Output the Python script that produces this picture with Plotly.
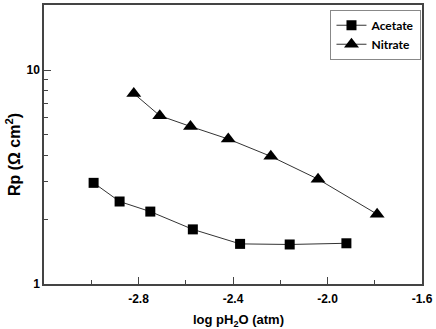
import plotly.graph_objects as go

acetate_x = [-2.99, -2.88, -2.75, -2.57, -2.37, -2.16, -1.92]
acetate_y = [2.97, 2.43, 2.18, 1.80, 1.54, 1.53, 1.55]
nitrate_x = [-2.82, -2.71, -2.58, -2.42, -2.24, -2.04, -1.79]
nitrate_y = [7.77, 6.12, 5.45, 4.76, 3.95, 3.09, 2.12]

x_ticks = [-2.8, -2.4, -2.0, -1.6]
x_minor = [-3.0, -2.6, -2.2, -1.8]
y_ticks = [1, 10]
y_minor = [2, 3, 4, 5, 6, 7, 8, 9, 20]

fig = go.Figure()
fig.add_trace(go.Scatter(x=acetate_x, y=acetate_y, name="Acetate", mode="lines+markers",
                         line=dict(color="#333333", width=1),
                         marker=dict(symbol="square", size=10, color="black")))
fig.add_trace(go.Scatter(x=nitrate_x, y=nitrate_y, name="Nitrate", mode="lines+markers",
                         line=dict(color="#333333", width=1),
                         marker=dict(symbol="triangle-up", size=13, color="black")))

tickfont = dict(family="Liberation Sans", size=12, color="black", weight="bold")
titlefont = dict(family="Liberation Sans", size=13, color="black", weight="bold")
fig.update_layout(
    width=436, height=329,
    margin=dict(l=44, r=12, t=3, b=45),
    paper_bgcolor="white", plot_bgcolor="white",
    showlegend=True,
    legend=dict(x=(332 - 44) / 380, y=0.983, xanchor="left", yanchor="top",
                bordercolor="#888888", borderwidth=1, bgcolor="white",
                font=dict(family="Lato", size=12, color="black", weight="bold"),
                tracegroupgap=0, itemwidth=30),
    xaxis=dict(range=[-3.2, -1.6], tickvals=x_ticks, ticktext=[f"{v:.1f}" for v in x_ticks],
               ticks="inside", ticklen=7, tickwidth=1.2, tickcolor="#444444",
               showline=True, linecolor="#444444", linewidth=1.5, mirror=True,
               showgrid=False, zeroline=False, tickfont=tickfont, ticklabelstandoff=3,
               minor=dict(tickvals=x_minor, ticks="inside", ticklen=4, tickcolor="#444444", showgrid=False)),
    yaxis=dict(type="log", range=[0, 1.304], tickvals=y_ticks, ticktext=["1", "10"],
               ticks="inside", ticklen=7, tickwidth=1.2, tickcolor="#444444",
               showline=True, linecolor="#444444", linewidth=1.5, mirror=True,
               showgrid=False, zeroline=False, tickfont=tickfont,
               minor=dict(tickvals=y_minor, ticks="inside", ticklen=4, tickcolor="#444444", showgrid=False)),
    annotations=[
        dict(text="log pH<sub>2</sub>O (atm)", xref="paper", yref="paper",
             x=(240 - 44) / 380, y=-(321 - 284) / 281, xanchor="center", yanchor="middle",
             showarrow=False, font=titlefont),
        dict(text="Rp (\u03a9 cm<sup>2</sup>)", xref="paper", yref="paper",
             x=-(44 - 13) / 380, y=(284 - 154) / 281, xanchor="center", yanchor="middle",
             textangle=-90, showarrow=False,
             font=dict(family="Liberation Sans", size=16, color="black", weight="bold")),
    ],
)
fig.write_html("out.html")
